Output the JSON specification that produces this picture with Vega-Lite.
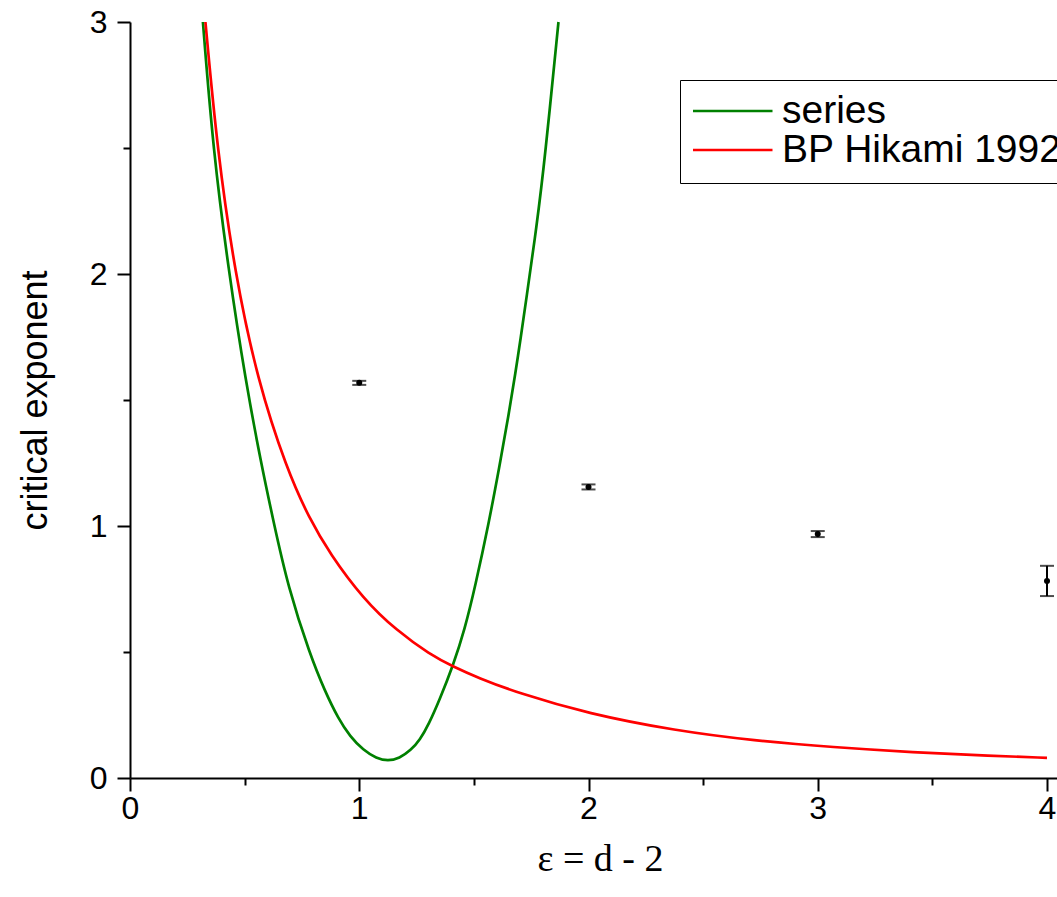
{
  "$schema": "https://vega.github.io/schema/vega-lite/v6.json",
  "width": 927,
  "height": 756,
  "autosize": {"type": "none"},
  "padding": {"left": 130, "top": 22, "right": 0, "bottom": 119},
  "background": "white",
  "config": {
    "view": {"stroke": null},
    "axis": {
      "grid": false,
      "domainColor": "black",
      "domainWidth": 2,
      "tickColor": "black",
      "tickWidth": 2,
      "labelColor": "black",
      "labelFont": "Liberation Sans",
      "labelFontSize": 32,
      "titleColor": "black",
      "titleFontWeight": "normal"
    }
  },
  "datasets": {
    "curves": [
      {"series": "series", "x": 0.318, "y": 3.0},
      {"series": "series", "x": 0.363, "y": 2.49},
      {"series": "series", "x": 0.429, "y": 2.02},
      {"series": "series", "x": 0.505, "y": 1.57},
      {"series": "series", "x": 0.574, "y": 1.24},
      {"series": "series", "x": 0.623, "y": 1.03},
      {"series": "series", "x": 0.69, "y": 0.755},
      {"series": "series", "x": 0.785, "y": 0.49},
      {"series": "series", "x": 0.85, "y": 0.345},
      {"series": "series", "x": 0.909, "y": 0.235},
      {"series": "series", "x": 0.96, "y": 0.165},
      {"series": "series", "x": 1.018, "y": 0.11},
      {"series": "series", "x": 1.075, "y": 0.078},
      {"series": "series", "x": 1.125, "y": 0.067},
      {"series": "series", "x": 1.175, "y": 0.078},
      {"series": "series", "x": 1.225, "y": 0.11},
      {"series": "series", "x": 1.265, "y": 0.152},
      {"series": "series", "x": 1.303, "y": 0.213},
      {"series": "series", "x": 1.35, "y": 0.31},
      {"series": "series", "x": 1.41, "y": 0.448},
      {"series": "series", "x": 1.46, "y": 0.59},
      {"series": "series", "x": 1.505, "y": 0.757},
      {"series": "series", "x": 1.567, "y": 1.02},
      {"series": "series", "x": 1.61, "y": 1.23},
      {"series": "series", "x": 1.65, "y": 1.43},
      {"series": "series", "x": 1.694, "y": 1.68},
      {"series": "series", "x": 1.73, "y": 1.91},
      {"series": "series", "x": 1.774, "y": 2.19},
      {"series": "series", "x": 1.81, "y": 2.46},
      {"series": "series", "x": 1.869, "y": 3.0},
      {"series": "BP Hikami 1992", "x": 0.329, "y": 3.0},
      {"series": "BP Hikami 1992", "x": 0.381, "y": 2.49},
      {"series": "BP Hikami 1992", "x": 0.458, "y": 2.0},
      {"series": "BP Hikami 1992", "x": 0.557, "y": 1.575},
      {"series": "BP Hikami 1992", "x": 0.684, "y": 1.225},
      {"series": "BP Hikami 1992", "x": 0.782, "y": 1.03},
      {"series": "BP Hikami 1992", "x": 0.872, "y": 0.89},
      {"series": "BP Hikami 1992", "x": 1.018, "y": 0.71},
      {"series": "BP Hikami 1992", "x": 1.163, "y": 0.585},
      {"series": "BP Hikami 1992", "x": 1.309, "y": 0.49},
      {"series": "BP Hikami 1992", "x": 1.41, "y": 0.442},
      {"series": "BP Hikami 1992", "x": 1.518, "y": 0.398},
      {"series": "BP Hikami 1992", "x": 1.69, "y": 0.338},
      {"series": "BP Hikami 1992", "x": 2.0, "y": 0.255},
      {"series": "BP Hikami 1992", "x": 2.379, "y": 0.188},
      {"series": "BP Hikami 1992", "x": 2.724, "y": 0.148},
      {"series": "BP Hikami 1992", "x": 3.069, "y": 0.122},
      {"series": "BP Hikami 1992", "x": 3.414, "y": 0.102},
      {"series": "BP Hikami 1992", "x": 3.758, "y": 0.088},
      {"series": "BP Hikami 1992", "x": 4.0, "y": 0.08}
    ],
    "points": [
      {"x": 1, "y": 1.568, "lo": 1.56, "hi": 1.576},
      {"x": 2, "y": 1.155, "lo": 1.145, "hi": 1.165},
      {"x": 3, "y": 0.968, "lo": 0.956, "hi": 0.98},
      {"x": 4, "y": 0.782, "lo": 0.722, "hi": 0.842}
    ]
  },
  "layer": [
    {
      "data": {"name": "curves"},
      "mark": {"type": "line", "strokeWidth": 2.7, "interpolate": "basis"},
      "encoding": {
        "x": {
          "field": "x",
          "type": "quantitative",
          "title": "ε = d - 2",
          "scale": {"domain": [0, 4.0436], "nice": false, "zero": false},
          "axis": {
            "values": [0, 0.5, 1, 1.5, 2, 2.5, 3, 3.5, 4],
            "labelExpr": "datum.value % 1 === 0 ? format(datum.value, 'd') : ''",
            "tickSize": {"condition": {"test": "datum.value % 1 === 0", "value": 13}, "value": 7},
            "labelPadding": 2,
            "labelFlush": false,
            "labelOverlap": false,
            "titleFont": "Liberation Serif",
            "titleFontSize": 38,
            "titlePadding": 16,
            "titleX": 470
          }
        },
        "y": {
          "field": "y",
          "type": "quantitative",
          "title": "critical exponent",
          "scale": {"domain": [0, 3], "nice": false},
          "axis": {
            "values": [0, 0.5, 1, 1.5, 2, 2.5, 3],
            "labelExpr": "datum.value % 1 === 0 ? format(datum.value, 'd') : ''",
            "tickSize": {"condition": {"test": "datum.value % 1 === 0", "value": 13}, "value": 7},
            "labelPadding": 10,
            "labelFlush": false,
            "labelOverlap": false,
            "titleFont": "Liberation Sans",
            "titleFontSize": 36,
            "titlePadding": 35
          }
        },
        "color": {
          "field": "series",
          "type": "nominal",
          "sort": ["series", "BP Hikami 1992"],
          "scale": {"domain": ["series", "BP Hikami 1992"], "range": ["#008000", "#ff0000"]},
          "legend": {
            "title": null,
            "orient": "none",
            "legendX": 550,
            "legendY": 58,
            "symbolType": "stroke",
            "symbolSize": 7569,
            "symbolStrokeWidth": 2.5,
            "symbolOffset": -9,
            "clipHeight": 36,
            "rowPadding": 0,
            "padding": 13,
            "labelFont": "Liberation Sans",
            "labelFontSize": 39,
            "labelColor": "black",
            "labelLimit": 0,
            "labelOffset": 8,
            "strokeColor": "black",
            "fillColor": "white"
          }
        }
      }
    },
    {
      "data": {"name": "points"},
      "mark": {"type": "errorbar", "ticks": {"size": 14, "thickness": 2, "color": "black"}, "thickness": 2, "color": "black"},
      "encoding": {
        "x": {"field": "x", "type": "quantitative", "title": "ε = d - 2"},
        "y": {"field": "lo", "type": "quantitative", "title": "critical exponent"},
        "y2": {"field": "hi"}
      }
    },
    {
      "data": {"name": "points"},
      "mark": {"type": "point", "filled": true, "color": "black", "size": 36, "opacity": 1},
      "encoding": {
        "x": {"field": "x", "type": "quantitative", "title": "ε = d - 2"},
        "y": {"field": "y", "type": "quantitative", "title": "critical exponent"}
      }
    }
  ]
}
